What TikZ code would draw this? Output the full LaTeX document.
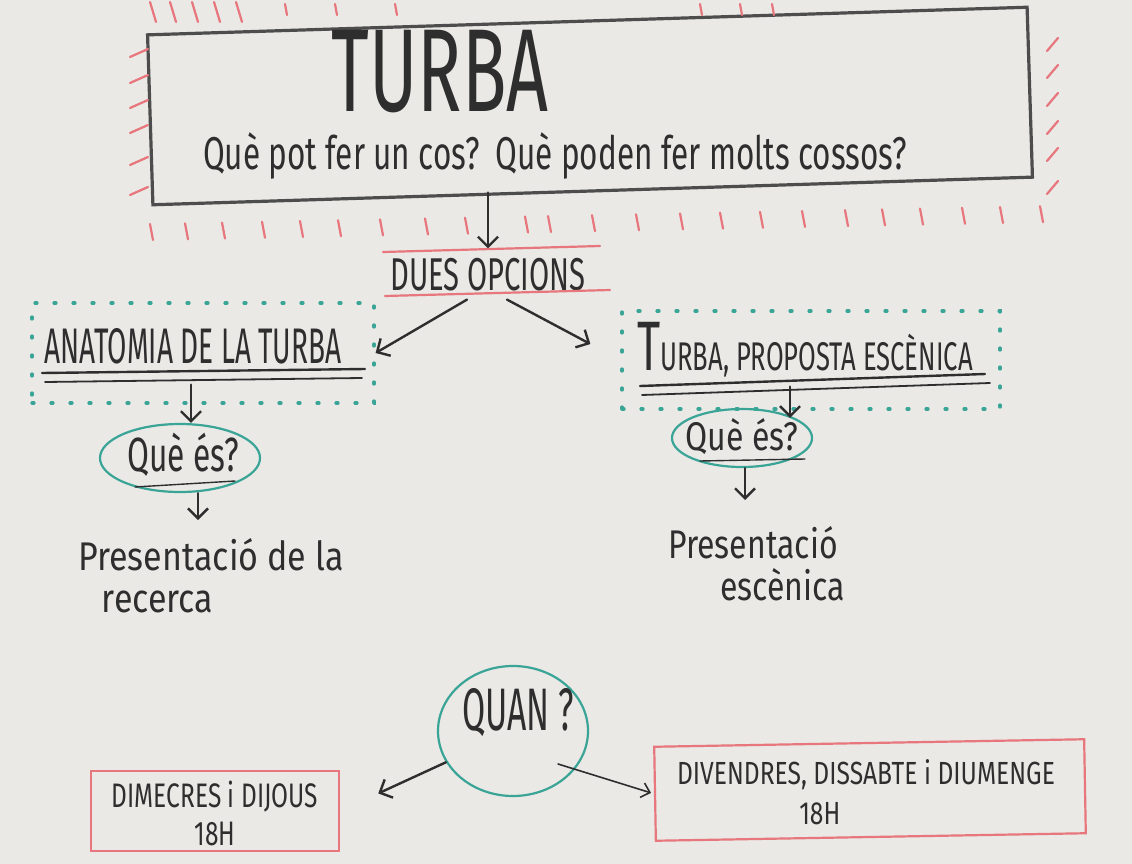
\documentclass[tikz,border=0pt]{standalone}
\usepackage{fontspec}
\setmainfont{Fira Sans}
\usetikzlibrary{arrows.meta,shapes.geometric,positioning}

\definecolor{board}{HTML}{EAE9E6}
\definecolor{inkc}{HTML}{2E2E2E}
\definecolor{redc}{HTML}{E7767D}
\definecolor{greenc}{HTML}{3AA496}

\tikzset{
  hand/.style={text=inkc, inner sep=0pt, xscale=#1},
  hand/.default=0.6,
  ink/.style={draw=inkc, line width=2.4pt, line cap=round},
  arr/.style={ink, -{Straight Barb[length=10pt,width=20pt]}},
  thinarr/.style={draw=inkc, line width=1.6pt, line cap=round, -{Straight Barb[length=8pt,width=15pt]}},
  redline/.style={draw=redc, line width=2.2pt, line cap=round},
  redbox/.style={draw=redc, line width=2.2pt, inner sep=0pt},
  dotbox/.style={draw=greenc, line width=3.2pt, dash pattern=on 2pt off 17pt, line cap=round, inner sep=0pt},
  bubble/.style={ellipse, draw=greenc, line width=2.2pt, inner sep=0pt},
  titlebox/.style={draw=inkc!85, line width=3.2pt, inner sep=0pt},
}

\begin{document}
\begin{tikzpicture}[x=1pt,y=-1pt]
\fill[board] (0,0) rectangle (1132,864);
\useasboundingbox (0,0) rectangle (1132,864);

% title block
\node[titlebox, rotate=1.8, minimum width=880, minimum height=170] (title) at (590,106) {};
\node[hand=0.62, font=\fontsize{118}{118}\selectfont] (turba) at (440,72) {TURBA};
\node[hand=0.685, font=\fontsize{46}{46}\selectfont] (question) at (555,156)
  {Què pot fer un cos?\enspace Què poden fer molts cossos?};

% red rays round the title
\foreach \y in {52,78,103,128,160,190}
  \draw[redline] (130,\y+5) -- (148,\y-3);
\foreach \y in {45,72,100,128,155,188}
  \draw[redline] (1047,\y+6) -- (1058,\y-7);
\foreach \x in {150,170,192,214,236}
  \draw[redline] (\x,2) -- (\x+6,22);
\foreach \x in {285,335,395,700,740,772}
  \draw[redline] (\x,4) -- (\x+2,15);
\foreach \x [evaluate=\x as \yt using 224-0.02*(\x-150)] in
  {150,185,222,262,300,338,380,425,465,525,548,592,636,680,720,760,802,845,882,920,962,1000,1040}
  \draw[redline] (\x,\yt) -- (\x+3,\yt+16);

% two options
\node[hand=0.635, font=\fontsize{46}{46}\selectfont] (dues) at (488,275) {DUES OPCIONS};
\draw[redline] (383,252) -- (600,246);
\draw[redline] (385,296) -- (610,290);
\draw[arr] (title.south -| dues.north) -- ([yshift=10pt]dues.north);

% left option
\node[hand=0.56, font=\fontsize{50}{50}\selectfont] (anat) at (193,346) {ANATOMIA DE LA TURBA};
\node[dotbox, minimum width=342, minimum height=100] (anatbox) at (203,353) {};
\draw[ink] (42,373) -- (365,369);
\draw[ink, line width=1.8pt] (45,382) -- (362,378);

% right option
\node[hand=0.64, font=\fontsize{40}{40}\selectfont] (prop) at (805,350)
  {{\fontsize{70}{70}\selectfont T}URBA, PROPOSTA ESCÈNICA};
\node[dotbox, minimum width=378, minimum height=98] (propbox) at (811,360) {};
\draw[ink] (640,386) -- (985,374);
\draw[ink, line width=1.8pt] (642,395) -- (990,383);

\draw[arr] ([xshift=-21pt,yshift=-8pt]dues.south) -- (anatbox.east);
\draw[arr, shorten >=34pt] ([xshift=19pt,yshift=-8pt]dues.south) -- (propbox.west);

% what is it? (left)
\node[bubble, minimum width=160, minimum height=68] (que1) at (180,458) {};
\node[hand=0.66, font=\fontsize{48}{48}\selectfont] (que1txt) at (183,455) {Què és?};
\draw[ink, line width=1.4pt] (135,487) -- (235,481);
\draw[arr] ([xshift=-2pt,yshift=20pt]anat.south |- anatbox.south) -- ([xshift=-2pt]anat.south |- que1.north);
\node[hand=0.85, font=\fontsize{40}{42}\selectfont, align=left, anchor=north west] (pres1) at (78,538)
  {Presentació de la\\\hspace*{28pt}recerca};
\draw[arr, shorten >=18pt] ([xshift=18pt]que1.south) -- ([xshift=18pt]que1.south |- pres1.north);

% what is it? (right)
\node[bubble, minimum width=140, minimum height=58] (que2) at (742,438) {};
\node[hand=0.8, font=\fontsize{40}{40}\selectfont] (que2txt) at (742,437) {Què és?};
\draw[ink, line width=1.4pt] (700,461) -- (805,459);
\draw[arr] ([xshift=-15pt,yshift=24pt]prop.south |- propbox.south) -- ([xshift=48pt,yshift=-10pt]que2.north);
\node[hand=0.8, font=\fontsize{40}{42}\selectfont, align=left, anchor=north west] (pres2) at (668,526)
  {Presentació\\\hspace*{65pt}escènica};
\draw[arr, shorten >=26pt] ([xshift=3pt]que2.south) -- ([xshift=3pt]que2.south |- pres2.north);

% when?
\node[bubble, minimum width=150, minimum height=130] (quan) at (513,731) {};
\node[hand=0.56, font=\fontsize{60}{60}\selectfont] (quantxt) at (518,713) {QUAN ?};

\node[redbox, minimum width=248, minimum height=80] (dimbox) at (215,811) {};
\node[hand=0.72, font=\fontsize{34}{38}\selectfont, align=center] (dim) at (215,813)
  {DIMECRES i DIJOUS\\18H};

\node[redbox, rotate=1, minimum width=430, minimum height=94] (divbox) at (870,790) {};
\node[hand=0.77, font=\fontsize{32}{40}\selectfont, align=center] (div) at (866,792)
  {DIVENDRES, DISSABTE i DIUMENGE\\18H\hspace*{120pt}};

\draw[arr, shorten >=42pt] (quan.205) -- (dimbox.east);
\coordinate (qr) at (558,764);
\draw[thinarr, shorten >=3pt] (qr) -- (divbox.west);
\end{tikzpicture}
\end{document}
